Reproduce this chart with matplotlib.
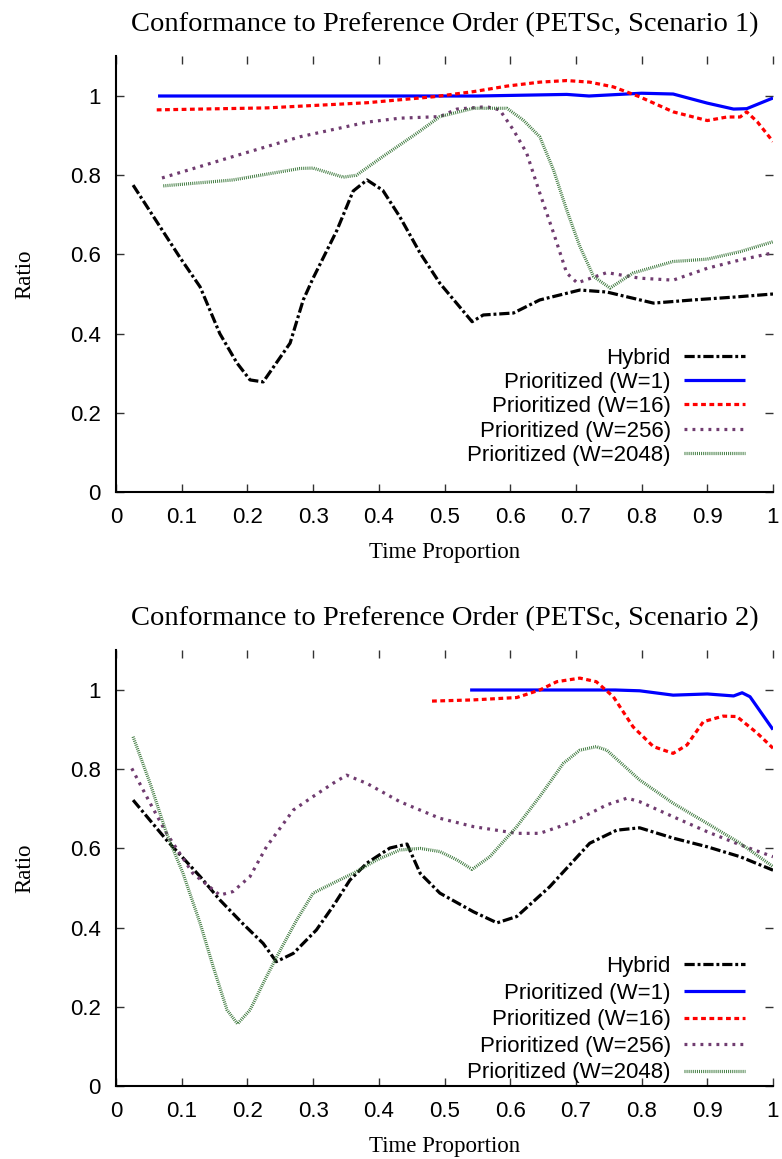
import matplotlib
matplotlib.use("Agg")
import matplotlib.pyplot as plt

# ---------------- Data: Scenario 1 ----------------
s1_hybrid_t = [0.026, 0.097, 0.128, 0.158, 0.184, 0.204, 0.224, 0.265, 0.285, 0.30, 0.336, 0.361,
               0.382, 0.406, 0.432, 0.463, 0.493, 0.542, 0.559, 0.605, 0.645, 0.706, 0.747, 0.818,
               0.878, 0.939, 1.0]
s1_hybrid_v = [0.775, 0.593, 0.518, 0.40, 0.326, 0.283, 0.278, 0.376, 0.485, 0.54, 0.66, 0.76,
               0.788, 0.762, 0.695, 0.603, 0.527, 0.43, 0.447, 0.452, 0.485, 0.51, 0.505, 0.477,
               0.485, 0.492, 0.50]

s1_w1_t = [0.064, 0.2, 0.4, 0.55, 0.686, 0.72, 0.8, 0.848, 0.9, 0.94, 0.96, 1.0]
s1_w1_v = [1.0, 1.0, 1.0, 1.0, 1.004, 1.0, 1.007, 1.005, 0.982, 0.967, 0.968, 0.995]

s1_w16_t = [0.062, 0.23, 0.382, 0.483, 0.544, 0.595, 0.645, 0.686, 0.721, 0.757, 0.797, 0.848,
            0.9, 0.93, 0.95, 0.96, 0.976, 1.0]
s1_w16_v = [0.965, 0.97, 0.983, 0.998, 1.011, 1.025, 1.035, 1.039, 1.035, 1.023, 0.998, 0.96,
            0.938, 0.947, 0.947, 0.96, 0.935, 0.885]

s1_w256_t = [0.07, 0.178, 0.28, 0.382, 0.432, 0.493, 0.519, 0.564, 0.584, 0.605, 0.625, 0.645,
             0.666, 0.686, 0.702, 0.747, 0.797, 0.848, 0.9, 0.95, 1.0]
s1_w256_v = [0.793, 0.847, 0.897, 0.934, 0.944, 0.948, 0.967, 0.973, 0.965, 0.914, 0.856, 0.755,
             0.654, 0.553, 0.528, 0.554, 0.54, 0.535, 0.565, 0.586, 0.604]

s1_w2048_t = [0.072, 0.178, 0.28, 0.30, 0.346, 0.366, 0.406, 0.458, 0.493, 0.544, 0.595, 0.62,
              0.645, 0.666, 0.686, 0.706, 0.727, 0.752, 0.787, 0.848, 0.9, 0.95, 1.0]
s1_w2048_v = [0.773, 0.788, 0.817, 0.818, 0.795, 0.80, 0.847, 0.906, 0.948, 0.969, 0.969, 0.939,
              0.897, 0.813, 0.712, 0.62, 0.544, 0.515, 0.553, 0.582, 0.588, 0.607, 0.632]

# ---------------- Data: Scenario 2 ----------------
s2_hybrid_t = [0.026, 0.077, 0.128, 0.158, 0.193, 0.224, 0.244, 0.27, 0.305, 0.33, 0.356, 0.382,
               0.417, 0.443, 0.463, 0.493, 0.544, 0.58, 0.61, 0.66, 0.721, 0.762, 0.797, 0.848,
               0.9, 0.95, 1.0]
s2_hybrid_v = [0.722, 0.621, 0.529, 0.47, 0.41, 0.36, 0.314, 0.335, 0.394, 0.453, 0.52, 0.563,
               0.601, 0.611, 0.537, 0.487, 0.44, 0.412, 0.428, 0.503, 0.613, 0.646, 0.652, 0.626,
               0.604, 0.579, 0.545]

s2_w1_t = [0.539, 0.65, 0.76, 0.797, 0.848, 0.9, 0.94, 0.953, 0.965, 1.0]
s2_w1_v = [1.0, 1.0, 1.0, 0.998, 0.987, 0.99, 0.985, 0.993, 0.983, 0.90]

s2_w16_t = [0.481, 0.544, 0.61, 0.645, 0.671, 0.706, 0.731, 0.757, 0.787, 0.818, 0.848, 0.869,
            0.894, 0.924, 0.945, 0.976, 1.0]
s2_w16_v = [0.972, 0.975, 0.981, 1.0, 1.021, 1.03, 1.021, 0.983, 0.907, 0.857, 0.84, 0.861,
            0.92, 0.934, 0.933, 0.891, 0.853]

s2_w256_t = [0.024, 0.052, 0.077, 0.117, 0.158, 0.178, 0.204, 0.229, 0.27, 0.30, 0.33, 0.351,
             0.382, 0.432, 0.493, 0.544, 0.61, 0.645, 0.696, 0.747, 0.778, 0.797, 0.848, 0.9,
             0.95, 1.0]
s2_w256_v = [0.802, 0.714, 0.638, 0.537, 0.482, 0.491, 0.529, 0.604, 0.697, 0.731, 0.764, 0.785,
             0.764, 0.718, 0.676, 0.655, 0.638, 0.638, 0.667, 0.71, 0.727, 0.718, 0.68, 0.642,
             0.609, 0.579]

s2_w2048_t = [0.026, 0.052, 0.077, 0.102, 0.128, 0.148, 0.169, 0.185, 0.204, 0.229, 0.25, 0.275,
              0.30, 0.33, 0.361, 0.397, 0.432, 0.463, 0.493, 0.519, 0.542, 0.569, 0.61, 0.645,
              0.681, 0.706, 0.731, 0.747, 0.797, 0.848, 0.9, 0.95, 1.0]
s2_w2048_v = [0.882, 0.764, 0.638, 0.537, 0.411, 0.301, 0.192, 0.157, 0.192, 0.276, 0.343, 0.419,
              0.487, 0.512, 0.537, 0.571, 0.596, 0.60, 0.592, 0.571, 0.547, 0.579, 0.655, 0.731,
              0.815, 0.848, 0.857, 0.848, 0.773, 0.714, 0.663, 0.613, 0.554]

series_labels = ["Hybrid", "Prioritized (W=1)", "Prioritized (W=16)",
                 "Prioritized (W=256)", "Prioritized (W=2048)"]
titles = ["Conformance to Preference Order (PETSc, Scenario 1)",
          "Conformance to Preference Order (PETSc, Scenario 2)"]
x_ticks = [0, 0.1, 0.2, 0.3, 0.4, 0.5, 0.6, 0.7, 0.8, 0.9, 1.0]
x_tick_labels = ["0", "0.1", "0.2", "0.3", "0.4", "0.5", "0.6", "0.7", "0.8", "0.9", "1"]
y_ticks = [0, 0.2, 0.4, 0.6, 0.8, 1.0]
y_tick_labels = ["0", "0.2", "0.4", "0.6", "0.8", "1"]

scenarios = [
    [(s1_hybrid_t, s1_hybrid_v), (s1_w1_t, s1_w1_v), (s1_w16_t, s1_w16_v),
     (s1_w256_t, s1_w256_v), (s1_w2048_t, s1_w2048_v)],
    [(s2_hybrid_t, s2_hybrid_v), (s2_w1_t, s2_w1_v), (s2_w16_t, s2_w16_v),
     (s2_w256_t, s2_w256_v), (s2_w2048_t, s2_w2048_v)],
]

styles = [
    dict(color="black", lw=2.3, dashes=(3.2, 0.9, 0.9, 0.9)),
    dict(color="#0000ff", lw=2.3, linestyle="-"),
    dict(color="#ff0000", lw=2.3, dashes=(1.5, 1.1)),
    dict(color="#703c70", lw=2.3, dashes=(0.9, 1.6)),
    dict(color="#3f7a3f", lw=2.3, dashes=(0.3, 0.35)),
]

sans = ["Liberation Sans", "DejaVu Sans"]
serif = ["Liberation Serif", "DejaVu Serif"]

fig = plt.figure(figsize=(7.82, 11.59), dpi=100)
axes_rects = [
    [116 / 782, 1 - 492 / 1159, (773 - 116) / 782, 435.6 / 1159],
    [116 / 782, 1 - 1086 / 1159, (773 - 116) / 782, 435.6 / 1159],
]
legend_anchor_y = [0.014, -0.04]
legend_spacing = [0.15, 0.25]

for ax_rect, data, title, ly, lsp in zip(axes_rects, scenarios, titles,
                                         legend_anchor_y, legend_spacing):
    ax = fig.add_axes(ax_rect)
    handles = []
    for (t, v), st, lab in zip(data, styles, series_labels):
        ln, = ax.plot(t, v, label=lab, solid_capstyle="butt", dash_capstyle="butt", **st)
        handles.append(ln)
    ax.set_xlim(0, 1)
    ax.set_ylim(0, 1.1)
    ax.set_xticks(x_ticks)
    ax.set_xticklabels(x_tick_labels, family=sans, fontsize=16)
    ax.set_yticks(y_ticks)
    ax.set_yticklabels(y_tick_labels, family=sans, fontsize=16)
    ax.tick_params(direction="in", top=True, right=True, length=6, width=1.0,
                   color="#333333")
    ax.tick_params(axis="x", pad=11)
    ax.tick_params(axis="y", pad=11)
    for side in ["top", "right"]:
        ax.spines[side].set_visible(False)
    for side in ["left", "bottom"]:
        ax.spines[side].set_linewidth(1.5)
    ax.set_title(title, family=serif, fontsize=20.5, pad=18)
    ax.set_xlabel("Time Proportion", family=serif, fontsize=16.5, labelpad=10)
    ax.set_ylabel("Ratio", family=serif, fontsize=16.5, labelpad=25)
    leg = ax.legend(handles=handles, loc="lower right", bbox_to_anchor=(0.988, ly),
                    frameon=False, markerfirst=False, handlelength=2.75,
                    handletextpad=0.6, labelspacing=lsp,
                    prop=dict(family=sans, size=16))
    for txt in leg.get_texts():
        txt.set_ha("right")

fig.savefig("out.png", dpi=100)
